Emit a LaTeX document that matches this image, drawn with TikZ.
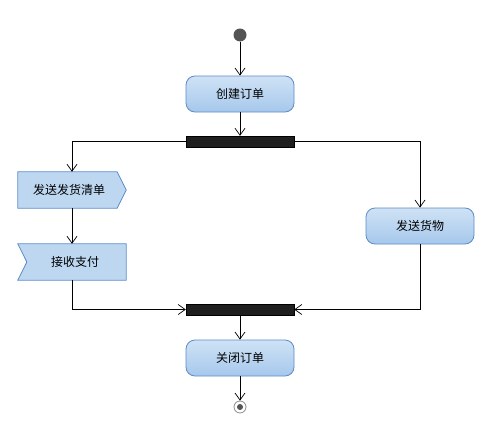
\documentclass[tikz,border=0pt]{standalone}
\usepackage{fontspec}
\newfontfamily\cjk{Noto Sans CJK SC}
\usetikzlibrary{arrows.meta,backgrounds}
\definecolor{boxline}{HTML}{5B8CC8}
\definecolor{boxtop}{HTML}{CFE2F5}
\definecolor{boxbot}{HTML}{A6C8EC}
\definecolor{sigfill}{HTML}{BDD7F1}
\begin{document}
\begin{tikzpicture}[x=1pt,y=-1pt,
  act/.style={draw=boxline,line width=0.8pt,rounded corners=9pt,minimum width=108pt,minimum height=36pt,top color=boxtop,bottom color=boxbot,font=\cjk\fontsize{12}{14}\selectfont,inner sep=0pt},
  sigbox/.style={minimum width=108pt,minimum height=36pt,font=\cjk\fontsize{12}{14}\selectfont,inner sep=0pt},
  sigshape/.style={draw=boxline,line width=0.8pt,fill=sigfill},
  bar/.style={draw=black,fill=black!88,minimum width=108pt,minimum height=11pt,inner sep=0pt},
  flow/.style={line width=0.7pt,-{Straight Barb[length=7pt,width=10pt,line width=0.7pt]}}]
\useasboundingbox (0,0) rectangle (495,431);
\begin{pgfonlayer}{background}
\fill[white] (0,0) rectangle (495,431);
\end{pgfonlayer}
\node[circle,fill=black!67,minimum size=13pt,inner sep=0pt] (start) at (240,35) {};
\node[act] (create) at (240,94) {创建订单};
\node[bar] (fork) at (240,141.5) {};
\node[sigbox] (ship) at (72,190) {\hspace*{-6pt}发送发货清单};
\node[sigbox] (pay) at (72,262) {\hspace*{6pt}接收支付};
\node[act] (goods) at (420,226) {发送货物};
\node[bar] (join) at (240,309.5) {};
\node[act] (close) at (240,358) {关闭订单};
\node[circle,draw=black!45,line width=0.8pt,fill=white,minimum size=12pt,inner sep=0pt] (end) at (240,407) {};
\node[circle,fill=black!67,minimum size=6pt,inner sep=0pt] (enddot) at (end.center) {};
\begin{pgfonlayer}{background}
\draw[sigshape] (ship.north west) -- ([xshift=-9pt]ship.north east) -- (ship.east) -- ([xshift=-9pt]ship.south east) -- (ship.south west) -- cycle;
\draw[sigshape] (pay.north west) -- (pay.north east) -- (pay.south east) -- (pay.south west) -- ([xshift=9pt]pay.west) -- cycle;
\end{pgfonlayer}
\draw[flow] (start) -- (create);
\draw[flow] (create) -- (fork);
\draw[flow] (fork.west) -| (ship.north);
\draw[flow] (fork.east) -| (goods.north);
\draw[flow] (ship) -- (pay);
\draw[flow] (pay.south) |- (join.west);
\draw[flow] (goods.south) |- (join.east);
\draw[flow] (join) -- (close);
\draw[flow] (close) -- (end);
\end{tikzpicture}
\end{document}
